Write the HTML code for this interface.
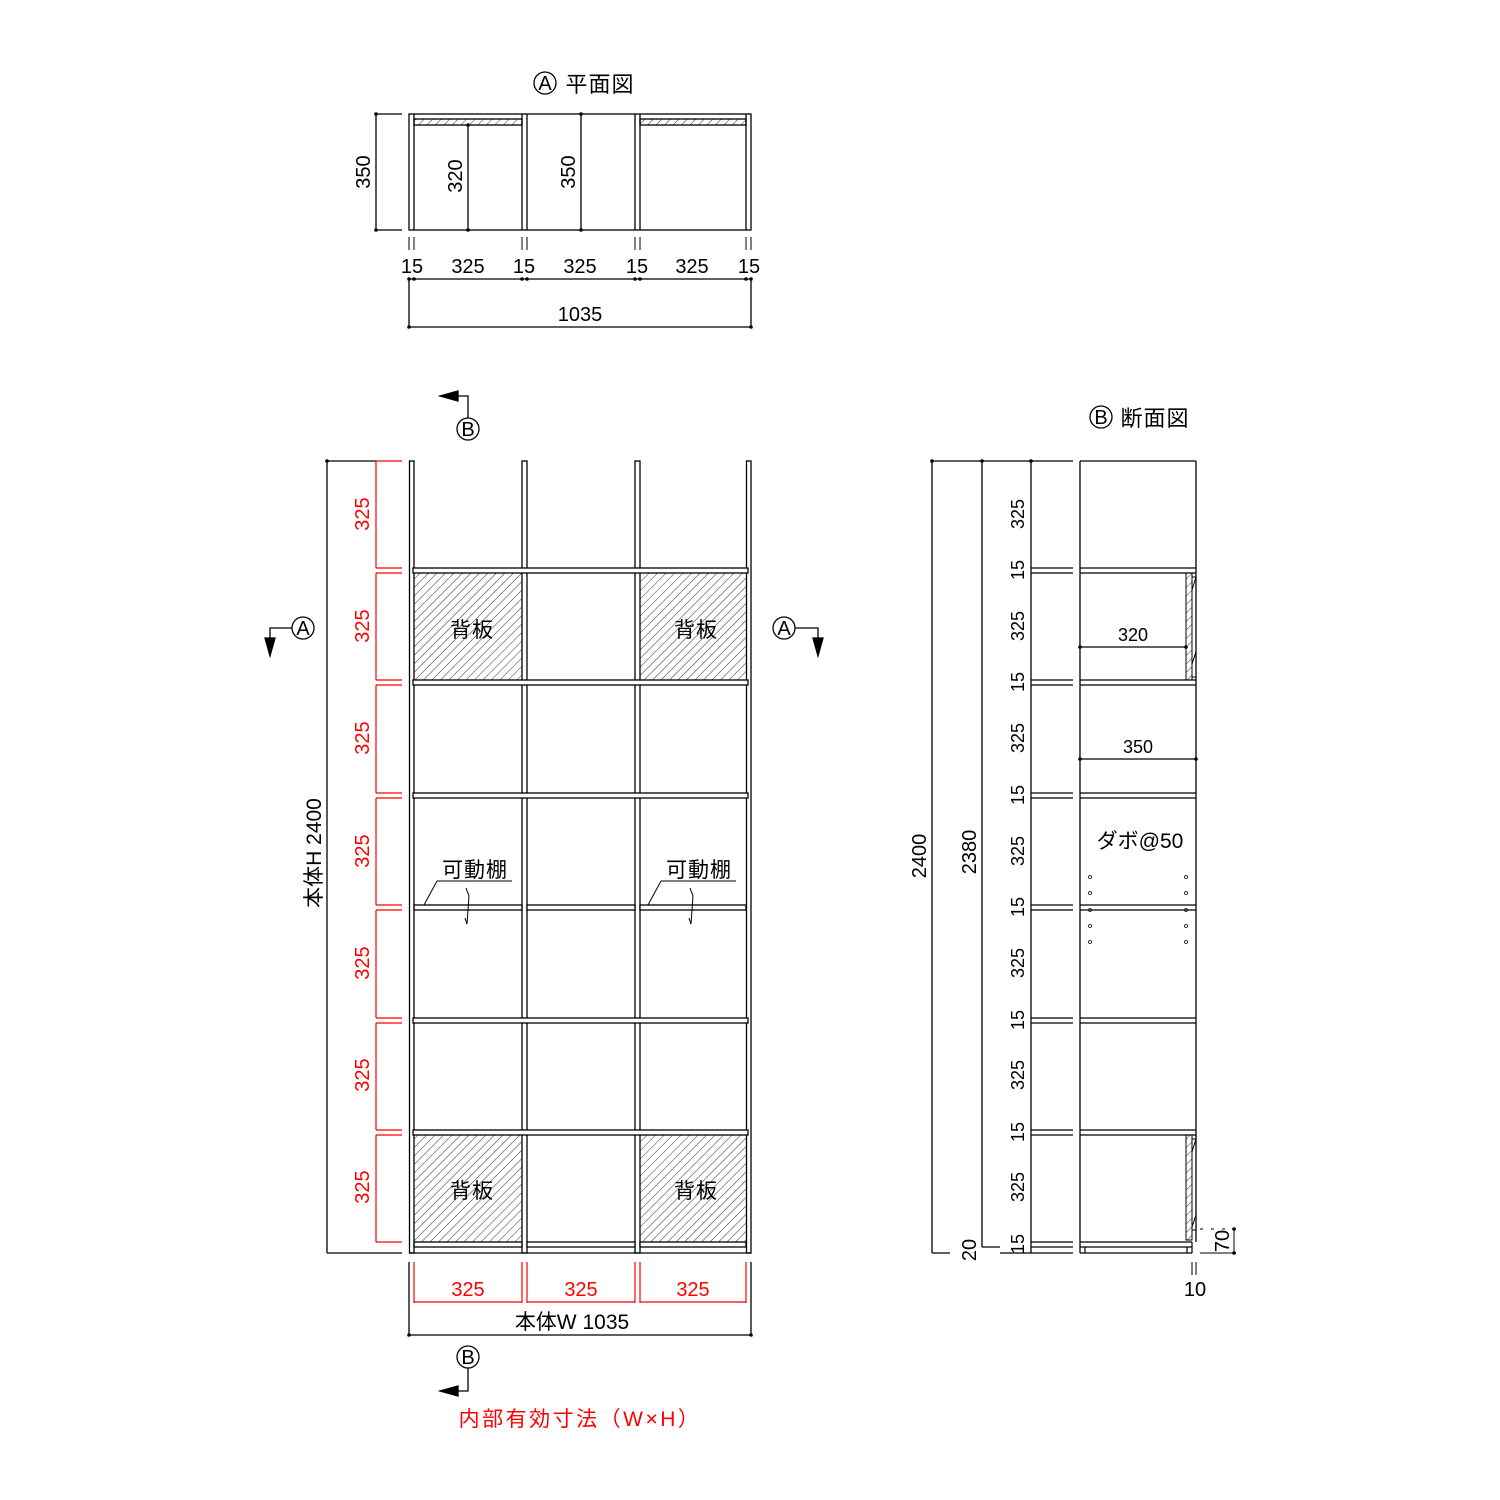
<!DOCTYPE html>
<html><head><meta charset="utf-8">
<style>
html,body{margin:0;padding:0;background:#fff;}
svg{display:block;}
text{font-family:"Liberation Sans","Noto Sans CJK JP",sans-serif;}
</style></head><body>
<svg width="1500" height="1500" viewBox="0 0 1500 1500" xmlns="http://www.w3.org/2000/svg">
<defs>
<pattern id="h" width="6" height="6" patternUnits="userSpaceOnUse" patternTransform="rotate(45)">
<line x1="0" y1="0" x2="0" y2="6" stroke="#000" stroke-width="0.8"/>
</pattern>
</defs>
<g stroke="#000" stroke-width="1.3" fill="none">

<!-- ===== PLAN VIEW ===== -->
<rect x="409" y="114" width="342" height="116"/>
<line x1="414" y1="114" x2="414" y2="230"/>
<line x1="522" y1="114" x2="522" y2="230"/>
<line x1="527" y1="114" x2="527" y2="230"/>
<line x1="635" y1="114" x2="635" y2="230"/>
<line x1="640" y1="114" x2="640" y2="230"/>
<line x1="746" y1="114" x2="746" y2="230"/>
<rect x="414" y="119" width="108" height="6" fill="url(#h)"/>
<rect x="640" y="119" width="106" height="6" fill="url(#h)"/>
<line x1="376" y1="114" x2="376" y2="230"/>
<line x1="376" y1="114" x2="402" y2="114"/>
<line x1="376" y1="230" x2="402" y2="230"/>
<line x1="468" y1="125" x2="468" y2="230"/>
<line x1="581" y1="114" x2="581" y2="230"/>
<g stroke-width="1">
<line x1="409" y1="237" x2="409" y2="250"/><line x1="414" y1="237" x2="414" y2="250"/>
<line x1="522" y1="237" x2="522" y2="250"/><line x1="527" y1="237" x2="527" y2="250"/>
<line x1="635" y1="237" x2="635" y2="250"/><line x1="640" y1="237" x2="640" y2="250"/>
<line x1="746" y1="237" x2="746" y2="250"/><line x1="751" y1="237" x2="751" y2="250"/>
</g>
<line x1="409" y1="279" x2="751" y2="279"/>
<line x1="409" y1="279" x2="409" y2="328"/>
<line x1="751" y1="279" x2="751" y2="328"/>
<line x1="409" y1="327" x2="751" y2="327"/>
<circle cx="545" cy="83" r="11"/>
<circle cx="1101" cy="417" r="11"/>

<!-- ===== FRONT VIEW ===== -->
<rect x="414" y="573" width="108" height="107" fill="url(#h)" stroke="none"/>
<rect x="640" y="573" width="106" height="107" fill="url(#h)" stroke="none"/>
<rect x="414" y="1135" width="108" height="107" fill="url(#h)" stroke="none"/>
<rect x="640" y="1135" width="106" height="107" fill="url(#h)" stroke="none"/>
<rect x="409.5" y="461" width="4.5" height="792" fill="#fff"/>
<rect x="522" y="461" width="5" height="792" fill="#fff"/>
<rect x="635" y="461" width="5" height="792" fill="#fff"/>
<rect x="746.5" y="461" width="4.5" height="792" fill="#fff"/>
<g fill="#fff">
<rect x="413" y="568" width="335" height="5"/>
<rect x="413" y="680" width="335" height="5"/>
<rect x="413" y="793" width="335" height="5"/>
<rect x="414" y="905" width="108" height="5"/>
<rect x="527" y="905" width="108" height="5"/>
<rect x="640" y="905" width="106" height="5"/>
<rect x="413" y="1018" width="335" height="5"/>
<rect x="413" y="1130" width="335" height="5"/>
<rect x="414" y="1242" width="108" height="5"/>
<rect x="527" y="1242" width="108" height="5"/>
<rect x="640" y="1242" width="106" height="5"/>
</g>
<line x1="409" y1="1253" x2="751" y2="1253"/>
<g stroke-width="1">
<polyline points="424,905 437,881 512,881"/>
<polyline points="648,905 661,881 736,881"/>
<polyline points="466,888 469,896 467,924 465,918"/>
<polyline points="690,888 693,896 691,924 689,918"/>
</g>
<line x1="327" y1="461" x2="327" y2="1253"/>
<line x1="327" y1="461" x2="376" y2="461"/>
<line x1="327" y1="1253" x2="402" y2="1253"/>
<g stroke="#f00" stroke-width="1.2">
<line x1="376" y1="461" x2="402" y2="461"/>
<line x1="376" y1="461" x2="376" y2="568"/>
<line x1="376" y1="573" x2="376" y2="680"/>
<line x1="376" y1="685" x2="376" y2="793"/>
<line x1="376" y1="798" x2="376" y2="905"/>
<line x1="376" y1="910" x2="376" y2="1018"/>
<line x1="376" y1="1023" x2="376" y2="1130"/>
<line x1="376" y1="1135" x2="376" y2="1242"/>
<line x1="376" y1="568" x2="402" y2="568"/><line x1="376" y1="573" x2="402" y2="573"/>
<line x1="376" y1="680" x2="402" y2="680"/><line x1="376" y1="685" x2="402" y2="685"/>
<line x1="376" y1="793" x2="402" y2="793"/><line x1="376" y1="798" x2="402" y2="798"/>
<line x1="376" y1="905" x2="402" y2="905"/><line x1="376" y1="910" x2="402" y2="910"/>
<line x1="376" y1="1018" x2="402" y2="1018"/><line x1="376" y1="1023" x2="402" y2="1023"/>
<line x1="376" y1="1130" x2="402" y2="1130"/><line x1="376" y1="1135" x2="402" y2="1135"/>
<line x1="376" y1="1242" x2="402" y2="1242"/>
<line x1="414" y1="1262" x2="414" y2="1303"/>
<line x1="522" y1="1262" x2="522" y2="1303"/>
<line x1="527" y1="1262" x2="527" y2="1303"/>
<line x1="635" y1="1262" x2="635" y2="1303"/>
<line x1="640" y1="1262" x2="640" y2="1303"/>
<line x1="746" y1="1262" x2="746" y2="1303"/>
<line x1="414" y1="1302" x2="522" y2="1302"/>
<line x1="527" y1="1302" x2="635" y2="1302"/>
<line x1="640" y1="1302" x2="746" y2="1302"/>
</g>
<line x1="409" y1="1262" x2="409" y2="1336"/>
<line x1="751" y1="1262" x2="751" y2="1336"/>
<line x1="409" y1="1335" x2="751" y2="1335"/>

<circle cx="468" cy="429" r="11"/>
<polyline points="468,418 468,396 458,396"/>
<polygon points="440,396 458,391 458,401" fill="#000"/>
<circle cx="468" cy="1357" r="11"/>
<polyline points="468,1368 468,1391 458,1391"/>
<polygon points="440,1391 458,1386 458,1396" fill="#000"/>
<circle cx="303" cy="628" r="11"/>
<polyline points="292,628 270,628 270,638"/>
<polygon points="270,656 265,638 275,638" fill="#000"/>
<circle cx="784" cy="628" r="11"/>
<polyline points="795,628 818,628 818,638"/>
<polygon points="818,656 813,638 823,638" fill="#000"/>

<!-- ===== SECTION VIEW ===== -->
<line x1="932" y1="461" x2="932" y2="1253"/>
<line x1="982" y1="461" x2="982" y2="1247"/>
<line x1="1031" y1="461" x2="1031" y2="1253"/>
<line x1="932" y1="461" x2="1073" y2="461"/>
<line x1="932" y1="1253" x2="950" y2="1253"/>
<line x1="982" y1="1247" x2="1000" y2="1247"/>
<g stroke-width="1.2">
<line x1="1031" y1="568" x2="1073" y2="568"/><line x1="1031" y1="573" x2="1073" y2="573"/>
<line x1="1031" y1="680" x2="1073" y2="680"/><line x1="1031" y1="685" x2="1073" y2="685"/>
<line x1="1031" y1="793" x2="1073" y2="793"/><line x1="1031" y1="798" x2="1073" y2="798"/>
<line x1="1031" y1="905" x2="1073" y2="905"/><line x1="1031" y1="910" x2="1073" y2="910"/>
<line x1="1031" y1="1018" x2="1073" y2="1018"/><line x1="1031" y1="1023" x2="1073" y2="1023"/>
<line x1="1031" y1="1130" x2="1073" y2="1130"/><line x1="1031" y1="1135" x2="1073" y2="1135"/>
<line x1="1031" y1="1242" x2="1073" y2="1242"/><line x1="1031" y1="1247" x2="1073" y2="1247"/>
<line x1="1000" y1="1253" x2="1073" y2="1253"/>
</g>
<line x1="1080" y1="461" x2="1080" y2="1253"/>
<line x1="1196" y1="461" x2="1196" y2="1242"/>
<line x1="1080" y1="461" x2="1196" y2="461"/>
<g stroke-width="1.2">
<line x1="1080" y1="568" x2="1196" y2="568"/><line x1="1080" y1="573" x2="1196" y2="573"/>
<line x1="1080" y1="680" x2="1196" y2="680"/><line x1="1080" y1="685" x2="1196" y2="685"/>
<line x1="1080" y1="793" x2="1196" y2="793"/><line x1="1080" y1="798" x2="1196" y2="798"/>
<line x1="1080" y1="905" x2="1196" y2="905"/><line x1="1080" y1="910" x2="1196" y2="910"/>
<line x1="1080" y1="1018" x2="1196" y2="1018"/><line x1="1080" y1="1023" x2="1196" y2="1023"/>
<line x1="1080" y1="1130" x2="1196" y2="1130"/><line x1="1080" y1="1135" x2="1196" y2="1135"/>
<line x1="1080" y1="1242" x2="1192" y2="1242"/><line x1="1080" y1="1247" x2="1192" y2="1247"/>
<line x1="1080" y1="1253" x2="1192" y2="1253"/>
<line x1="1192" y1="1242" x2="1192" y2="1253"/>
<line x1="1085" y1="1247" x2="1085" y2="1253"/>
<line x1="1187" y1="1247" x2="1187" y2="1253"/>
</g>
<rect x="1186" y="573" width="6" height="107" fill="url(#h)" stroke-width="1"/>
<rect x="1186" y="1135" width="6" height="105" fill="url(#h)" stroke-width="1"/>
<g stroke-width="1">
<polyline points="1192,577 1196,577"/><polyline points="1192,590 1196,577"/>
<polyline points="1192,664 1196,652"/><polyline points="1192,677 1196,677"/>
<polyline points="1192,1139 1196,1139"/><polyline points="1192,1152 1196,1139"/>
<polyline points="1192,1227 1196,1215"/><polyline points="1192,1230 1196,1230 1196,1242"/>
</g>
<line x1="1080" y1="647" x2="1186" y2="647"/>
<line x1="1080" y1="759" x2="1196" y2="759"/>
<g stroke-width="1">
<line x1="1200" y1="1229" x2="1236" y2="1229" stroke-dasharray="3 8"/>
<line x1="1234" y1="1229" x2="1234" y2="1253"/>
<line x1="1200" y1="1253" x2="1236" y2="1253"/>
<line x1="1192" y1="1262" x2="1192" y2="1275"/>
<line x1="1196" y1="1262" x2="1196" y2="1275"/>
</g>
<g stroke-width="0.8">
<circle cx="1090" cy="877" r="1.5"/><circle cx="1090" cy="893" r="1.5"/><circle cx="1090" cy="910" r="1.5"/><circle cx="1090" cy="926" r="1.5"/><circle cx="1090" cy="942" r="1.5"/>
<circle cx="1186" cy="877" r="1.5"/><circle cx="1186" cy="893" r="1.5"/><circle cx="1186" cy="910" r="1.5"/><circle cx="1186" cy="926" r="1.5"/><circle cx="1186" cy="942" r="1.5"/>
</g>
</g>

<g fill="#000">
<circle cx="376" cy="114" r="1.8"/><circle cx="376" cy="230" r="1.8"/>
<circle cx="468" cy="125" r="1.8"/><circle cx="468" cy="230" r="1.8"/>
<circle cx="581" cy="114" r="1.8"/><circle cx="581" cy="230" r="1.8"/>
<circle cx="409" cy="279" r="1.8"/><circle cx="414" cy="279" r="1.8"/><circle cx="522" cy="279" r="1.8"/><circle cx="527" cy="279" r="1.8"/>
<circle cx="635" cy="279" r="1.8"/><circle cx="640" cy="279" r="1.8"/><circle cx="746" cy="279" r="1.8"/><circle cx="751" cy="279" r="1.8"/>
<circle cx="409" cy="327" r="1.8"/><circle cx="751" cy="327" r="1.8"/>
<circle cx="327" cy="461" r="1.8"/><circle cx="932" cy="461" r="1.8"/><circle cx="982" cy="461" r="1.8"/><circle cx="1031" cy="461" r="1.8"/>
<circle cx="1080" cy="647" r="1.8"/><circle cx="1186" cy="647" r="1.8"/>
<circle cx="1080" cy="759" r="1.8"/><circle cx="1196" cy="759" r="1.8"/>
<circle cx="409" cy="1335" r="1.8"/><circle cx="751" cy="1335" r="1.8"/>
<circle cx="1234" cy="1229" r="1.8"/><circle cx="1234" cy="1253" r="1.8"/>
</g>

<g font-size="20" fill="#000" text-anchor="middle">
<text x="545" y="90">A</text>
<text x="600" y="92" font-size="22" letter-spacing="1">平面図</text>
<text x="1101" y="424">B</text>
<text x="1155" y="426" font-size="22" letter-spacing="1">断面図</text>
<text x="412" y="273">15</text><text x="468" y="273">325</text>
<text x="524" y="273">15</text><text x="580" y="273">325</text>
<text x="637" y="273">15</text><text x="692" y="273">325</text>
<text x="749" y="273">15</text>
<text x="580" y="321">1035</text>
<text transform="translate(370,172) rotate(-90)">350</text>
<text transform="translate(462,176) rotate(-90)">320</text>
<text transform="translate(575,172) rotate(-90)">350</text>
<text x="468" y="436">B</text>
<text x="468" y="1364">B</text>
<text x="303" y="635">A</text>
<text x="784" y="635">A</text>
<text x="472" y="637" font-size="21" letter-spacing="1">背板</text><text x="696" y="637" font-size="21" letter-spacing="1">背板</text>
<text x="472" y="1198" font-size="21" letter-spacing="1">背板</text><text x="696" y="1198" font-size="21" letter-spacing="1">背板</text>
<text x="475" y="877" font-size="21" letter-spacing="1">可動棚</text><text x="699" y="877" font-size="21" letter-spacing="1">可動棚</text>
<text transform="translate(321,853) rotate(-90)" font-size="21">本体H 2400</text>
<text x="572" y="1329" font-size="21">本体W 1035</text>
<text transform="translate(926,856) rotate(-90)">2400</text>
<text transform="translate(976,852) rotate(-90)">2380</text>
<text transform="translate(976,1250) rotate(-90)">20</text>
<text x="1140" y="848" font-size="21">ダボ@50</text>
<text transform="translate(1229,1241) rotate(-90)">70</text>
<text x="1195" y="1296">10</text>
</g>
<g font-size="18" fill="#000" text-anchor="middle">
<text x="1133" y="641">320</text>
<text x="1138" y="753">350</text>
<text transform="translate(1024,514) rotate(-90)">325</text>
<text transform="translate(1024,570) rotate(-90)">15</text>
<text transform="translate(1024,626) rotate(-90)">325</text>
<text transform="translate(1024,682) rotate(-90)">15</text>
<text transform="translate(1024,738) rotate(-90)">325</text>
<text transform="translate(1024,795) rotate(-90)">15</text>
<text transform="translate(1024,851) rotate(-90)">325</text>
<text transform="translate(1024,907) rotate(-90)">15</text>
<text transform="translate(1024,963) rotate(-90)">325</text>
<text transform="translate(1024,1020) rotate(-90)">15</text>
<text transform="translate(1024,1075) rotate(-90)">325</text>
<text transform="translate(1024,1132) rotate(-90)">15</text>
<text transform="translate(1024,1187) rotate(-90)">325</text>
<text transform="translate(1024,1244) rotate(-90)">15</text>
</g>
<g font-size="20" fill="#f00" text-anchor="middle">
<text transform="translate(369,514) rotate(-90)">325</text>
<text transform="translate(369,626) rotate(-90)">325</text>
<text transform="translate(369,738) rotate(-90)">325</text>
<text transform="translate(369,851) rotate(-90)">325</text>
<text transform="translate(369,963) rotate(-90)">325</text>
<text transform="translate(369,1075) rotate(-90)">325</text>
<text transform="translate(369,1187) rotate(-90)">325</text>
<text x="468" y="1296">325</text>
<text x="581" y="1296">325</text>
<text x="693" y="1296">325</text>
<text x="580" y="1426" font-size="21" letter-spacing="2.5">内部有効寸法（W×H）</text>
</g>
</svg>
</body></html>
